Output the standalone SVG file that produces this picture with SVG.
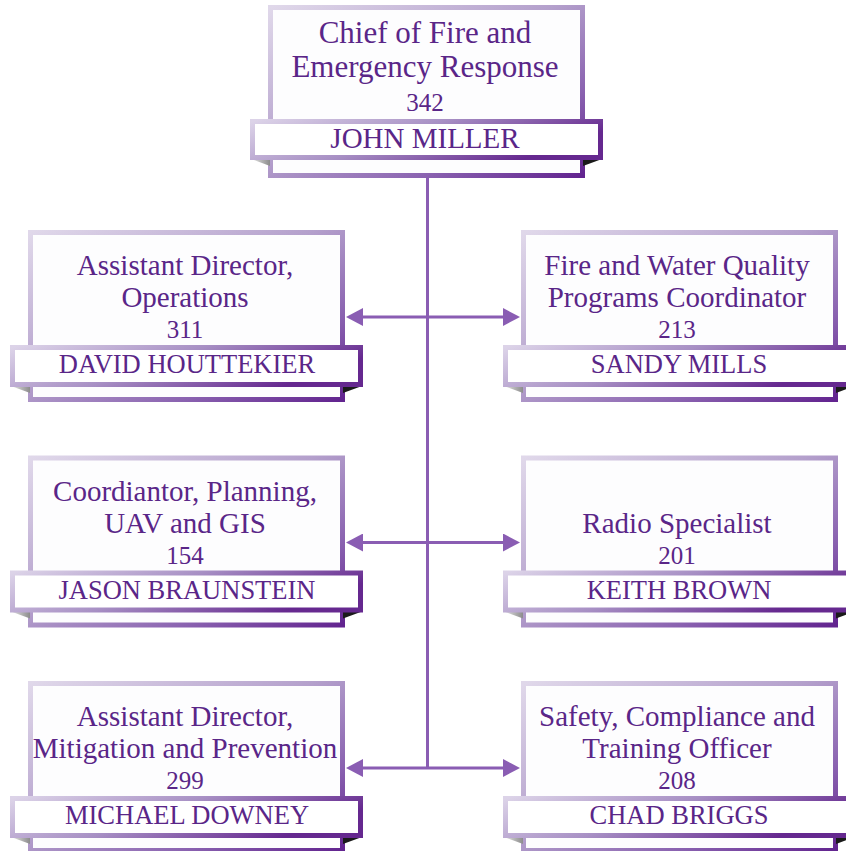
<svg xmlns="http://www.w3.org/2000/svg" width="846" height="851" viewBox="0 0 846 851">
<defs>
<linearGradient id="gBox" x1="0" y1="0" x2="1" y2="1">
<stop offset="0" stop-color="#e0d8ea"/>
<stop offset="0.45" stop-color="#b4a0cc"/>
<stop offset="0.75" stop-color="#8a62b0"/>
<stop offset="1" stop-color="#62248f"/>
</linearGradient>
<linearGradient id="gBand" x1="0" y1="0" x2="1" y2="0.3">
<stop offset="0" stop-color="#dcd3e8"/>
<stop offset="0.5" stop-color="#a78fc4"/>
<stop offset="1" stop-color="#65288f"/>
</linearGradient>
<linearGradient id="gFold" x1="0" y1="0" x2="1" y2="0">
<stop offset="0" stop-color="#e6e6e6"/>
<stop offset="1" stop-color="#8c8c8c"/>
</linearGradient>
<marker id="arr" viewBox="0 0 18 18" refX="1" refY="9" markerWidth="18" markerHeight="18" markerUnits="userSpaceOnUse" orient="auto-start-reverse">
<path d="M0,0 L17,9 L0,18 z" fill="#8a5db3"/>
</marker>
</defs>
<style>
.box{fill:#fdfdfe;stroke:url(#gBox);stroke-width:5}
.band{fill:#ffffff;stroke:url(#gBand);stroke-width:5}
.fl{fill:url(#gFold)}
.fr{fill:#1a1a1a}
text{font-family:"Liberation Serif","Times New Roman",serif;fill:#5a2688;text-anchor:middle}
.t{font-size:29px}
.tt{font-size:31px}
.n{font-size:26.5px}
.nt{font-size:29px}
.num{font-size:25px}
.conn{stroke:#8a5db3;stroke-width:3;fill:none}
</style>

<g id="connectors">
<line class="conn" x1="427.5" y1="178" x2="427.5" y2="768"/>
<line class="conn" x1="362" y1="317" x2="504" y2="317" marker-start="url(#arr)" marker-end="url(#arr)"/>
<line class="conn" x1="362" y1="542.5" x2="504" y2="542.5" marker-start="url(#arr)" marker-end="url(#arr)"/>
<line class="conn" x1="362" y1="768" x2="504" y2="768" marker-start="url(#arr)" marker-end="url(#arr)"/>
</g>

<g id="chief">
<rect class="box" x="270.5" y="7.5" width="312" height="168"/>
<polygon class="fl" points="251,159 270,159 270,166"/>
<polygon class="fr" points="583,159 602,159 583,166"/>
<rect class="band" x="252.5" y="121.5" width="348" height="36"/>
<text class="tt" x="425" y="43">Chief of Fire and</text>
<text class="tt" x="425" y="77">Emergency Response</text>
<text class="num" x="425" y="111">342</text>
<text class="nt" x="425" y="148">JOHN MILLER</text>
</g>

<g id="houttekier">
<rect class="box" x="30.5" y="232.5" width="312" height="167"/>
<polygon class="fl" points="11,386 30,386 30,393"/>
<polygon class="fr" points="343,386 362,386 343,393"/>
<rect class="band" x="12.5" y="347.5" width="348" height="37"/>
<text class="t" x="185" y="275">Assistant Director,</text>
<text class="t" x="185" y="307">Operations</text>
<text class="num" x="185" y="338">311</text>
<text class="n" x="187" y="373">DAVID HOUTTEKIER</text>
</g>

<g id="mills">
<rect class="box" x="523.5" y="232.5" width="312" height="167"/>
<polygon class="fl" points="504,386 523,386 523,393"/>
<polygon class="fr" points="836,386 855,386 836,393"/>
<rect class="band" x="505.5" y="347.5" width="348" height="37"/>
<text class="t" x="677" y="275">Fire and Water Quality</text>
<text class="t" x="677" y="307">Programs Coordinator</text>
<text class="num" x="677" y="338">213</text>
<text class="n" x="679" y="373">SANDY MILLS</text>
</g>

<g id="braunstein">
<rect class="box" x="30.5" y="458" width="312" height="167"/>
<polygon class="fl" points="11,611.5 30,611.5 30,618.5"/>
<polygon class="fr" points="343,611.5 362,611.5 343,618.5"/>
<rect class="band" x="12.5" y="573" width="348" height="37"/>
<text class="t" x="185" y="501">Coordiantor, Planning,</text>
<text class="t" x="185" y="533">UAV and GIS</text>
<text class="num" x="185" y="564">154</text>
<text class="n" x="187" y="599">JASON BRAUNSTEIN</text>
</g>

<g id="brown">
<rect class="box" x="523.5" y="458" width="312" height="167"/>
<polygon class="fl" points="504,611.5 523,611.5 523,618.5"/>
<polygon class="fr" points="836,611.5 855,611.5 836,618.5"/>
<rect class="band" x="505.5" y="573" width="348" height="37"/>
<text class="t" x="677" y="533">Radio Specialist</text>
<text class="num" x="677" y="564">201</text>
<text class="n" x="679" y="599">KEITH BROWN</text>
</g>

<g id="downey">
<rect class="box" x="30.5" y="683.5" width="312" height="167"/>
<polygon class="fl" points="11,837 30,837 30,844"/>
<polygon class="fr" points="343,837 362,837 343,844"/>
<rect class="band" x="12.5" y="798.5" width="348" height="37"/>
<text class="t" x="185" y="726">Assistant Director,</text>
<text class="t" x="185" y="758">Mitigation and Prevention</text>
<text class="num" x="185" y="789">299</text>
<text class="n" x="187" y="824">MICHAEL DOWNEY</text>
</g>

<g id="briggs">
<rect class="box" x="523.5" y="683.5" width="312" height="167"/>
<polygon class="fl" points="504,837 523,837 523,844"/>
<polygon class="fr" points="836,837 855,837 836,844"/>
<rect class="band" x="505.5" y="798.5" width="348" height="37"/>
<text class="t" x="677" y="726">Safety, Compliance and</text>
<text class="t" x="677" y="758">Training Officer</text>
<text class="num" x="677" y="789">208</text>
<text class="n" x="679" y="824">CHAD BRIGGS</text>
</g>
</svg>
